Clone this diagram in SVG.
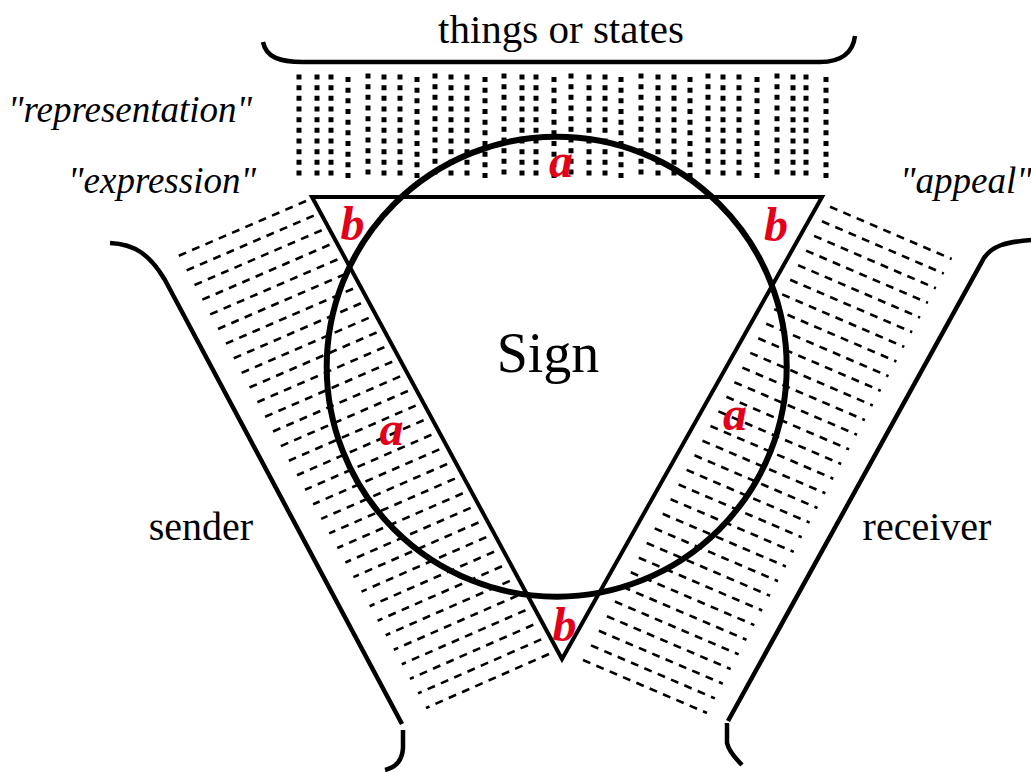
<svg xmlns="http://www.w3.org/2000/svg" width="1031" height="772" viewBox="0 0 1031 772">
<style>
.t{font-family:"Liberation Serif","Times New Roman",serif;fill:#000}
.it{font-family:"Liberation Serif","Times New Roman",serif;font-style:italic;fill:#000;font-size:37px}
.red{font-family:"Liberation Serif","Times New Roman",serif;font-style:italic;font-weight:bold;fill:#e3001b;font-size:48px;text-anchor:middle}
.dots{stroke:#000;stroke-width:5;stroke-dasharray:5 5.67;fill:none}
.hatch{stroke:#000;stroke-width:2.6;stroke-dasharray:8 6.5;fill:none}
.curve{stroke:#000;stroke-width:4.5;fill:none}
</style>
<rect width="1031" height="772" fill="#fff"/>
<g id="things-dots">
<path class="dots" d="M299 74.5V176M317 74.5V176M331 74.5V176M348 77V178.5M368 73.5V175M384 74.5V176M400 74.5V176M417 77V178.5M435 73.5V175M451 74.5V176M467 74.5V176M485 77V178.5M504 73.5V175M522 74.5V176M536 74.5V176M554 77V178.5M571 73.5V175M589 74.5V176M605 74.5V176M621 77V178.5M641 73.5V175M658 74.5V176M674 74.5V176M690 77V178.5M708 73.5V175M723 74.5V176M739 74.5V176M757 77V178.5M777 73.5V175M793 74.5V176M806 74.5V176M826 77V178.5"/>
</g>
<g id="connectors">
<path class="hatch" d="M306 201L176 257M313.8 215.6L184.1 271.5M321.7 230.2L192.1 286.1M329.5 244.8L200.2 300.6M337.4 259.5L208.3 315.2M345.2 274.1L216.3 329.7M353 288.7L224.4 344.3M360.9 303.3L232.5 358.8M368.7 317.9L240.5 373.4M376.6 332.5L248.6 387.9M384.4 347.1L256.6 402.5M392.2 361.7L264.7 417M400.1 376.4L272.8 431.6M407.9 391L280.8 446.1M415.7 405.6L288.9 460.7M423.6 420.2L297 475.2M431.4 434.8L305 489.8M439.3 449.4L313.1 504.3M447.1 464L321.2 518.9M454.9 478.6L329.2 533.4M462.8 493.3L337.3 548M470.6 507.9L345.4 562.5M478.5 522.5L353.4 577.1M486.3 537.1L361.5 591.6M494.1 551.7L369.6 606.2M502 566.3L377.6 620.7M509.8 580.9L385.7 635.2M517.7 595.5L393.8 649.8M525.5 610.2L401.8 664.3M533.3 624.8L409.9 678.9M541.2 639.4L418 693.4M549 654L426 708"/>
<path class="hatch" d="M830 206.7L951.7 259M822 221.3L943.8 273.6M814.1 235.9L935.9 288.3M806.1 250.6L928 302.9M798.1 265.2L920.1 317.6M790.2 279.8L912.2 332.2M782.2 294.4L904.3 346.9M774.2 309.1L896.4 361.5M766.3 323.7L888.5 376.2M758.3 338.3L880.7 390.8M750.3 352.9L872.8 405.5M742.4 367.6L864.9 420.1M734.4 382.2L857 434.7M726.4 396.8L849.1 449.4M718.4 411.4L841.2 464M710.5 426L833.3 478.7M702.5 440.7L825.4 493.3M694.5 455.3L817.5 508M686.6 469.9L809.6 522.6M678.6 484.5L801.7 537.3M670.6 499.2L793.8 551.9M662.7 513.8L785.9 566.5M654.7 528.4L778 581.2M646.7 543L770.1 595.8M638.8 557.7L762.2 610.5M630.8 572.3L754.3 625.1M622.8 586.9L746.5 639.8M614.9 601.5L738.6 654.4M606.9 616.2L730.7 669.1M598.9 630.8L722.8 683.7M591 645.4L714.9 698.4M583 660L707 713"/>
</g>
<g id="brace">
<path class="curve" d="M263 42C266 57 279 62 303 62L820 62C842 62 853 52 855 36"/>
</g>
<g id="sender-curve">
<path class="curve" d="M110 243C135 244 150 255 165 280L402 724"/>
<path class="curve" d="M403 730L403 748Q402 766 385 770"/>
</g>
<g id="receiver-curve">
<path class="curve" d="M1031 240C1005 242 992 246 984 258L728 721"/>
<path class="curve" d="M727 723L727 743Q729 752 742 765"/>
</g>
<g id="triangle">
<polygon points="312,197 822,197 562,659" fill="none" stroke="#000" stroke-width="4" stroke-linejoin="miter"/>
</g>
<g id="circle">
<circle cx="556.7" cy="366.7" r="230" fill="none" stroke="#000" stroke-width="6"/>
</g>
<g id="labels">
<text class="t" x="561" y="43" font-size="41" text-anchor="middle">things or states</text>
<text class="t" x="548" y="372" font-size="56" text-anchor="middle">Sign</text>
<text class="t" x="201" y="540" font-size="40" text-anchor="middle">sender</text>
<text class="t" x="927" y="540" font-size="40" text-anchor="middle">receiver</text>
<text class="it" x="8" y="122">"representation"</text>
<text class="it" x="68" y="193">"expression"</text>
<text class="it" x="900" y="193">"appeal"</text>
</g>
<g id="red-marks">
<text class="red" x="561" y="177">a</text>
<text class="red" x="352.5" y="240">b</text>
<text class="red" x="776" y="241">b</text>
<text class="red" x="391.5" y="445">a</text>
<text class="red" x="735" y="430">a</text>
<text class="red" x="564.5" y="641">b</text>
</g>
</svg>
